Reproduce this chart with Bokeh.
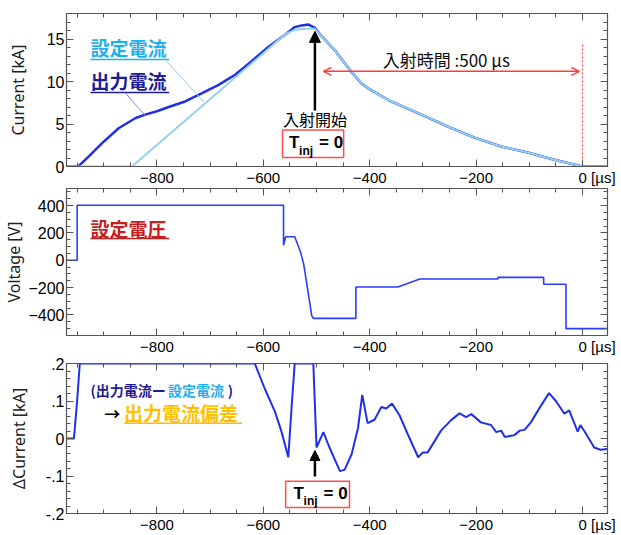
from bokeh.plotting import figure
from bokeh.layouts import column
from bokeh.models import (Range1d, LinearAxis, Label, Arrow, NormalHead, OpenHead,
                          BoxAnnotation, FixedTicker)
from bokeh.embed import file_html
from bokeh.resources import INLINE

# ---- time axis (µs, injection ends at 0) ----
x_major = [-800, -600, -400, -200, 0]
x_minor = list(range(-950, 50, 50))
x_tick_labels = {0: "\u00a0" * 7 + "0 [µs]"}

# ---- output current (kA) ----
out_t = [-970, -948, -928, -903, -872, -840, -822, -800, -778, -747, -716, -684, -653,
         -622, -590, -559, -541, -528, -515, -503, -490, -466, -438, -416, -403, -366,
         -303, -253, -203, -153, -103, -53, 0, 47]
out_i = [0, 0, 1.2, 2.75, 4.5, 5.7, 6.1, 6.5, 7.0, 7.65, 8.6, 9.6, 10.8,
         12.4, 14.1, 15.5, 16.4, 16.6, 16.7, 16.3, 15.3, 13.7, 11.4, 9.8, 9.2, 7.85,
         6.1, 4.7, 3.4, 2.35, 1.65, 0.8, 0, 0]

# ---- current setpoint (kA) ----
set_t = [-970, -847, -571, -555, -540, -520, -503, -490, -466, -438, -416, -403, -366,
         -303, -253, -203, -153, -103, -53, 0, 47]
set_i = [0, 0, 14.9, 15.7, 16.1, 16.2, 16.2, 15.3, 13.7, 11.4, 9.8, 9.2, 7.85,
         6.1, 4.7, 3.4, 2.35, 1.65, 0.8, 0, 0]

# ---- voltage setpoint (V) ----
volt_t = [-970, -950, -950, -562, -562, -558, -541, -530, -524, -509, -506, -426, -426,
          -347, -306, -159, -159, -73, -73, -31, -31, 47]
volt_v = [0, 0, 402, 402, 110, 172, 172, 60, -30, -405, -425, -425, -195,
          -195, -137, -137, -125, -125, -175, -175, -500, -500]

# ---- current deviation (kA), trace saturates at +0.2 ----
dc_t = [-970, -956, -950, -945, -616, -597, -578, -566, -553, -547, -541, -506, -500,
        -487, -478, -466, -456, -447, -434, -422, -414, -404, -391, -378, -369, -358,
        -344, -328, -309, -300, -291, -278, -266, -247, -231, -219, -209, -191, -172,
        -162, -153, -146, -128, -118, -109, -97, -81, -63, -50, -34, -25, -9, -4, 6,
        22, 34, 47]
dc_v = [0, 0, 0.1, 0.2, 0.2, 0.132, 0.071, 0.019, -0.05, 0.08, 0.2, 0.2, -0.024,
        0.017, -0.016, -0.055, -0.087, -0.083, -0.042, 0.028, 0.116, 0.041, 0.05, 0.084,
        0.08, 0.093, 0.062, 0.01, -0.05, -0.037, -0.037, -0.007, 0.021, 0.049, 0.067,
        0.057, 0.065, 0.043, 0.036, 0.017, 0.021, 0.004, 0.009, 0.021, 0.023, 0.043,
        0.081, 0.121, 0.1, 0.066, 0.075, 0.018, 0.036, 0.014, -0.024, -0.03, -0.028]

# ---- y tick labels ----
cur_ticks = [0, 5, 10, 15]
volt_ticks = [-400, -200, 0, 200, 400]
dc_ticks = [-0.2, -0.1, 0, 0.1, 0.2]
dc_tick_labels = {-0.2: "-.2", -0.1: "-.1", 0: "0", 0.1: ".1", 0.2: ".2"}

X_RANGE = (-970, 47)
TICK_FONT = "Liberation Sans"
JP_FONT = "Noto Sans CJK JP"
AXIS_COLOR = "#555555"

NAVY = "#1c1c96"
SKY = "#1fb0ee"
LINE_BLUE = "#2030e8"
RED = "#ff3b3b"


def style_axis(ax, label_size=None):
    ax.axis_line_color = AXIS_COLOR
    ax.axis_line_width = 1.2
    ax.major_tick_line_color = AXIS_COLOR
    ax.minor_tick_line_color = AXIS_COLOR
    ax.major_tick_in = 7
    ax.major_tick_out = 0
    ax.minor_tick_in = 4
    ax.minor_tick_out = 0
    if label_size:
        ax.major_label_text_font = TICK_FONT
        ax.major_label_text_font_size = label_size
        ax.major_label_text_color = "black"
        ax.major_label_standoff = 2
    else:
        # mirror axis: ticks only
        ax.major_label_text_font_size = "0px"
        ax.major_label_text_color = None
        ax.major_label_standoff = 0


def make_panel(height, ylim, yticks, yminor, ylabel, top, bottom, title_standoff,
               overrides=None):
    p = figure(width=621, height=height, x_range=Range1d(*X_RANGE),
               y_range=Range1d(*ylim), output_backend="svg", toolbar_location=None,
               min_border_left=65, min_border_right=14, min_border_top=top,
               min_border_bottom=bottom, x_axis_type=None, y_axis_type=None)
    p.outline_line_color = AXIS_COLOR
    p.background_fill_color = "white"
    p.border_fill_color = "white"

    xt = FixedTicker(ticks=x_major, minor_ticks=x_minor)
    yt = FixedTicker(ticks=yticks, minor_ticks=yminor)

    xb = LinearAxis(ticker=xt, major_label_overrides=x_tick_labels)
    yl = LinearAxis(ticker=yt, axis_label=ylabel)
    xa = LinearAxis(ticker=xt)
    yr = LinearAxis(ticker=yt)
    style_axis(xb, "15px")
    style_axis(yl, "16px")
    style_axis(xa)
    style_axis(yr)
    yl.axis_label_text_font = "Noto Sans"
    yl.axis_label_text_font_size = "16px"
    yl.axis_label_text_font_style = "normal"
    yl.axis_label_text_color = "#222222"
    yl.axis_label_standoff = title_standoff
    if overrides:
        yl.major_label_overrides = overrides
    p.add_layout(xb, "below")
    p.add_layout(yl, "left")
    p.add_layout(xa, "above")
    p.add_layout(yr, "right")

    p.xgrid.ticker = xt
    p.ygrid.ticker = yt
    for g in (p.xgrid, p.ygrid):
        g.grid_line_color = "#9a9a9a"
        g.grid_line_dash = "2 2"
        g.grid_line_width = 1
        g.minor_grid_line_color = "#c4c4c4"
        g.minor_grid_line_dash = "2 2"
        g.minor_grid_line_width = 1
    return p


def jp_label(p, x, y, text, color, size="19px", bold=True, align="left"):
    p.add_layout(Label(x=x, y=y, text=text, text_font=JP_FONT, text_font_size=size,
                       text_font_style="bold" if bold else "normal", text_color=color,
                       text_baseline="middle", text_align=align))


def tinj_box(p, left, right, top, bottom):
    p.add_layout(BoxAnnotation(left=left, right=right, top=top, bottom=bottom,
                               fill_color="white", fill_alpha=1.0, line_color=RED,
                               line_alpha=0.9, line_width=1.5))
    cx = (left + right) / 2
    cy = (top + bottom) / 2
    p.add_layout(Label(x=cx, y=cy, x_offset=-24, y_offset=1, text="T",
                       text_font=TICK_FONT, text_font_size="17px", text_font_style="bold",
                       text_baseline="middle", text_align="left", text_color="black"))
    p.add_layout(Label(x=cx, y=cy, x_offset=-14, y_offset=-7, text="inj",
                       text_font=TICK_FONT, text_font_size="12px", text_font_style="bold",
                       text_baseline="middle", text_align="left", text_color="black"))
    p.add_layout(Label(x=cx, y=cy, x_offset=6, y_offset=1, text="= 0",
                       text_font=TICK_FONT, text_font_size="17px", text_font_style="bold",
                       text_baseline="middle", text_align="left", text_color="black"))


# ================= panel 1 : current =================
p1 = make_panel(188, (0, 18), cur_ticks, list(range(0, 19)), "Current [kA]",
                13, 21, 15)
p1.line(out_t, out_i, line_color=LINE_BLUE, line_width=2.5)
p1.line(set_t, set_i, line_color="#92d2ee", line_width=2)
p1.segment(x0=[0], y0=[0], x1=[0], y1=[14.6], line_color=RED, line_width=1,
           line_dash="2 2")

jp_label(p1, -925, 14.0, "設定電流", SKY)
p1.segment(x0=[-925], y0=[12.6], x1=[-777], y1=[12.6], line_color=SKY, line_width=1.5)
jp_label(p1, -925, 10.1, "出力電流", NAVY)
p1.segment(x0=[-925], y0=[8.7], x1=[-777], y1=[8.7], line_color=NAVY, line_width=1.5)
p1.segment(x0=[-785], y0=[12.6], x1=[-712], y1=[7.6], line_color="#8fd0ec", line_width=1)
p1.segment(x0=[-860], y0=[8.7], x1=[-822], y1=[6.0], line_color="#8a8aff", line_width=1)

p1.add_layout(Arrow(end=NormalHead(size=11, fill_color="black", line_color="black"),
                    x_start=-503, y_start=6.6, x_end=-503, y_end=15.9,
                    line_color="black", line_width=2.5))
jp_label(p1, -503, 5.6, "入射開始", "black", size="16px", bold=False, align="center")
tinj_box(p1, -564, -449, 4.3, 1.05)

jp_label(p1, -256, 12.6, "入射時間 :500 µs", "#111111", size="17px", bold=False,
         align="center")
p1.add_layout(Arrow(start=OpenHead(size=8, line_color=RED, line_width=1.5),
                    end=OpenHead(size=8, line_color=RED, line_width=1.5),
                    x_start=-487, y_start=11.2, x_end=-6, y_end=11.2,
                    line_color=RED, line_width=1.5))

# ================= panel 2 : voltage =================
p2 = make_panel(169, (-550, 525), volt_ticks, list(range(-550, 550, 50)),
                "Voltage [V]", 0, 15, 0)
p2.line(volt_t, volt_v, line_color="#2a3cff", line_width=1.6)
jp_label(p2, -925, 231, "設定電圧", "#c81e1e")
p2.segment(x0=[-925], y0=[160], x1=[-777], y1=[160], line_color="#c81e1e", line_width=1.5)

# ================= panel 3 : current deviation =================
p3 = make_panel(178, (-0.2, 0.2), dc_ticks,
                [round(-0.2 + 0.02 * k, 2) for k in range(21)],
                "ΔCurrent [kA]", 6, 19, 13, overrides=dc_tick_labels)
p3.line(dc_t, dc_v, line_color=LINE_BLUE, line_width=2)

jp_label(p3, -925, 0.130, "(出力電流ー", NAVY, size="14px")
jp_label(p3, -779, 0.130, "設定電流", SKY, size="14px")
jp_label(p3, -667, 0.130, ")", NAVY, size="14px")
jp_label(p3, -884, 0.068, "→", "black", size="16px", bold=True, align="center")
jp_label(p3, -862, 0.070, "出力電流偏差", "#ffbf00", size="19px")
p3.segment(x0=[-862], y0=[0.041], x1=[-640], y1=[0.041], line_color="#ffbf00",
           line_width=1.5)

p3.add_layout(Arrow(end=NormalHead(size=10, fill_color="black", line_color="black"),
                    x_start=-503, y_start=-0.101, x_end=-503, y_end=-0.032,
                    line_color="black", line_width=2.5))
tinj_box(p3, -558, -438, -0.114, -0.184)

layout = column(p1, p2, p3, spacing=0)
open("out.html", "w").write(file_html(layout, INLINE))
